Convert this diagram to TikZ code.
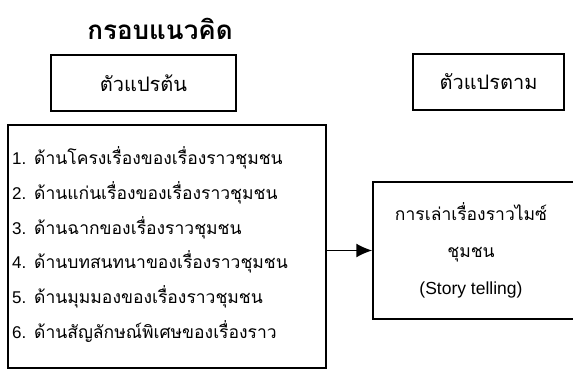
\documentclass[tikz,border=0pt]{standalone}
\usepackage{fontspec}
\setmainfont{Liberation Sans}
\newfontfamily\thaifont[Script=Thai]{Loma}
\usetikzlibrary{arrows.meta}

\begin{document}
\begin{tikzpicture}[x=1pt,y=-1pt,
  box/.style={draw,line width=1.5pt,inner sep=0pt},
  label/.style={font=\fontsize{17.5}{21}\selectfont\thaifont},
  head/.style={font=\fontsize{20}{24}\selectfont\thaifont}]
  \useasboundingbox (0,0) rectangle (573,370);
  \node[font=\fontsize{26}{30}\selectfont\bfseries\thaifont] (title) at (160,29) {กรอบแนวคิด};
  \node[box,head,minimum width=185pt,minimum height=56pt] (ivhead) at (143.5,83) {ตัวแปรต้น};
  \node[box,head,minimum width=151pt,minimum height=56pt] (dvhead) at (488.5,82) {ตัวแปรตาม};
  \node[box,minimum width=318pt,minimum height=243pt] (iv) at (167,246.5) {};
  \node[box,minimum width=212pt,minimum height=137pt] (dv) at (479,250.5) {};
  \node[label,align=center] (dvtext) at ([xshift=-8pt]dv.center)
    {การเล่าเรื่องราวไมซ์\\[16pt]ชุมชน\\[16pt]{\rmfamily\fontsize{17.5}{20}\selectfont(Story telling)}};
  \foreach \i/\txt in {1/ด้านโครงเรื่องของเรื่องราวชุมชน,2/ด้านแก่นเรื่องของเรื่องราวชุมชน,
    3/ด้านฉากของเรื่องราวชุมชน,4/ด้านบทสนทนาของเรื่องราวชุมชน,
    5/ด้านมุมมองของเรื่องราวชุมชน,6/ด้านสัญลักษณ์พิเศษของเรื่องราว}
    \node[label,anchor=west,inner sep=0pt] (item-\i) at (12,123+34.8*\i)
      {{\rmfamily\fontsize{17}{20}\selectfont\i.} \txt};
  \draw[line width=1.5pt,-{Latex[length=16pt,width=14pt]}] (iv.east |- dv.west) -- (dv.west);
\end{tikzpicture}
\end{document}
